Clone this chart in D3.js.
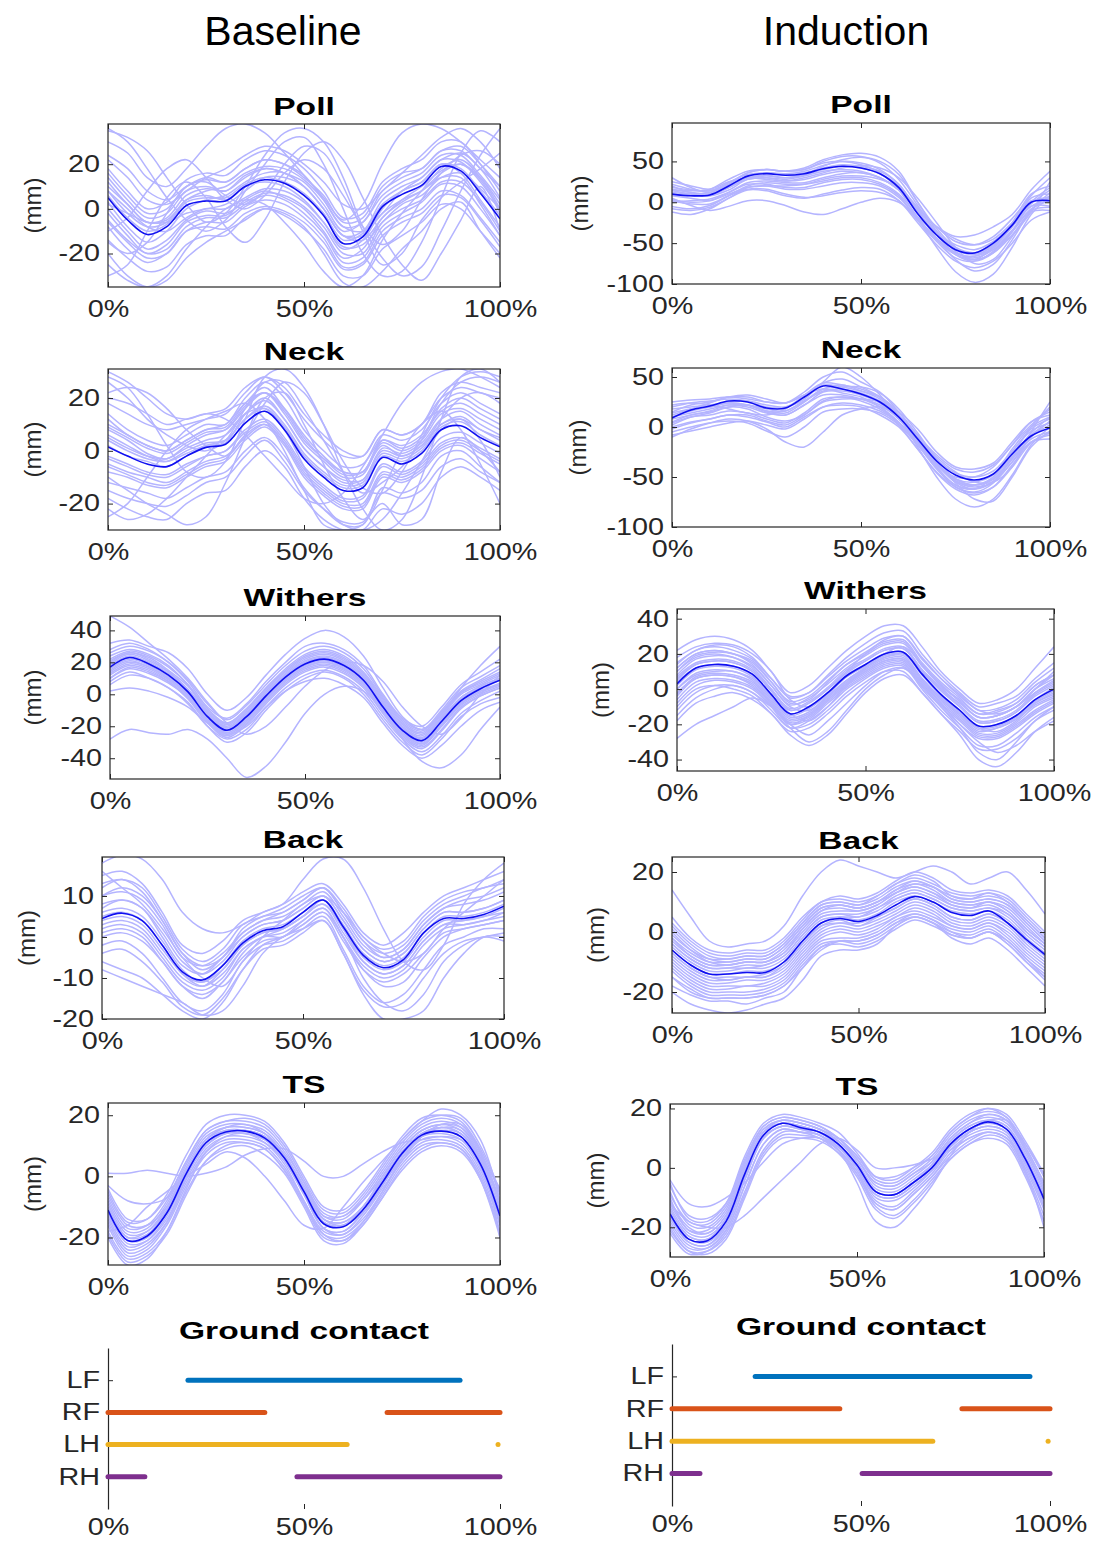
<!DOCTYPE html>
<html>
<head>
<meta charset="utf-8">
<script src="https://cdn.jsdelivr.net/npm/d3@7"></script>
<style>
  body { margin: 0; background: #fff; }
  svg text { font-family: "Liberation Sans", Arial, sans-serif; }
</style>
</head>
<body>
<svg id="fig" width="1094" height="1542"></svg>
<script>
// stride position, % of the stride (every 5%)
var pct = d3.range(0, 101, 5);
var xTicks = [0, 50, 100];

// ---- Poll ----
var pollBaseMean = [5,-5,-11.5,-8,1.5,3.5,3.5,10,13,11.5,6,-3,-15.5,-12.5,1,6.5,10.5,19,17,7,-4.5];
var pollBaseTraces = [
  [18,8,0,3,13,16,15,22,26,24,18,8,-4,-2,12,18,22,30,30,20,8],
  [-8,-18,-24,-20,-10,-8,-9,-2,1,-1,-6,-15,-27,-25,-12,-6,-2,6,5,-5,-17],
  [10,2,-6,-5,4,8,10,16,19,18,13,4,-8,-10,-2,8,14,22,25,18,5],
  [0,-10,-18,-14,-5,-1,-2,3,7,6,1,-8,-20,-20,-6,0,4,12,12,3,-10],
  [30,25,14,10,18,28,36,38,34,25,15,5,-5,2,20,34,38,36,30,22,14],
  [-20,-30,-35,-32,-22,-15,-10,-5,0,-2,-8,-20,-33,-35,-28,-18,-10,0,3,-10,-22],
  [-15,-20,-15,-2,10,12,6,2,8,20,28,25,10,-10,-25,-20,-5,5,12,18,25],
  [36,30,18,5,-5,-10,-5,8,20,30,32,20,0,-20,-30,-28,-15,5,25,35,30],
  [8,0,-8,-10,-4,0,0,5,9,8,3,-6,-17,-16,-6,2,6,14,16,9,0],
  [-2,-12,-20,-16,-6,-3,-3,4,8,5,0,-10,-22,-18,-4,3,8,14,14,2,-12],
  [14,4,-4,-2,8,10,8,14,18,16,12,2,-10,-6,6,12,16,24,24,15,4],
  [2,-2,-6,-6,-2,0,2,8,14,14,10,0,-12,-12,-2,4,8,16,20,14,2],
  [-30,-25,-10,5,12,5,-8,-15,-5,12,25,30,22,5,-12,-25,-32,-20,-5,10,-10],
  [22,14,4,2,8,14,18,24,28,26,20,12,2,0,8,16,24,32,36,30,18],
  [12,2,-6,-4,6,9,8,15,18,16,10,0,-12,-10,4,10,14,22,21,12,0],
  [-5,-14,-20,-18,-8,-4,-4,2,6,4,-2,-11,-24,-22,-8,-2,3,11,10,0,-12],
  [24,18,8,4,10,14,12,18,22,20,14,6,-6,-4,10,16,18,26,26,18,10],
  [-14,-22,-28,-26,-16,-12,-12,-4,0,-3,-9,-18,-30,-30,-18,-12,-6,2,0,-10,-20],
  [3,-8,-15,-10,0,4,6,12,16,16,10,0,-12,-14,-4,4,10,17,20,13,-2],
  [8,-2,-8,-6,4,6,4,10,12,10,4,-6,-18,-14,0,8,12,20,16,4,-8],
  [-10,-4,8,18,22,14,4,0,6,16,22,18,6,-8,-16,-10,4,16,24,26,20],
  [35,32,26,14,2,-6,-2,10,24,34,36,30,14,-8,-22,-30,-26,-10,8,24,36],
  [16,6,-2,0,10,13,12,18,22,20,15,4,-8,-6,8,14,18,26,28,20,10],
  [-6,-15,-22,-20,-10,-6,-6,1,4,2,-4,-13,-26,-24,-10,-4,0,8,6,-4,-15],
  [-25,-32,-35,-30,-18,-8,0,4,2,-6,-16,-28,-35,-30,-14,-2,8,18,22,14,0],
  [6,-4,-10,-7,3,5,5,11,14,12,7,-2,-14,-11,2,8,12,20,18,8,-3]
];
var pollIndMean = [10,8,9,20,32,35,33,35,41,44,42,35,18,-14,-40,-58,-62,-50,-28,0,2];
var pollIndTraces = [
  [30,18,12,22,36,40,38,42,52,58,60,55,38,0,-35,-60,-70,-55,-25,10,20],
  [-12,-15,-8,5,15,14,8,5,10,15,18,16,2,-25,-52,-72,-80,-72,-50,-22,-12],
  [20,12,12,24,34,36,35,38,45,50,48,40,22,-10,-40,-62,-66,-52,-28,5,10],
  [0,2,4,12,22,22,18,18,24,28,28,22,8,-22,-48,-68,-72,-60,-35,-5,-5],
  [5,-4,-10,-5,2,2,-4,-12,-15,-8,0,5,0,-18,-38,-52,-58,-48,-28,-5,5],
  [15,14,16,28,38,40,38,40,48,50,46,36,15,-20,-55,-85,-98,-88,-55,-15,8],
  [12,10,8,15,28,30,28,32,38,40,38,30,15,-10,-30,-42,-40,-30,-15,15,38],
  [8,5,2,10,18,20,20,22,28,32,32,28,18,-6,-30,-45,-52,-45,-25,2,0],
  [25,20,16,25,30,28,26,30,36,42,45,42,30,5,-25,-55,-75,-70,-42,-10,12],
  [-5,-8,-4,8,20,24,22,22,26,30,30,24,10,-18,-46,-64,-70,-62,-40,-12,-10],
  [18,15,14,22,30,32,30,34,44,52,55,50,34,0,-32,-55,-62,-58,-40,-12,25],
  [3,0,2,12,24,26,24,24,30,35,36,30,15,-12,-38,-58,-64,-54,-30,-2,15],
  [14,10,8,18,30,33,30,33,40,44,42,35,20,-8,-36,-56,-62,-52,-30,0,6],
  [-8,-10,-6,5,18,20,16,16,20,24,24,20,6,-20,-44,-62,-68,-58,-36,-10,-6],
  [22,16,14,24,36,40,38,40,50,56,56,48,28,-4,-38,-64,-72,-62,-36,0,18],
  [2,-2,-2,8,16,16,10,6,8,12,14,12,2,-22,-46,-62,-66,-56,-34,-8,2],
  [10,8,10,20,32,36,34,36,42,46,44,38,22,-12,-44,-70,-84,-76,-46,-10,8],
  [16,12,10,18,28,30,26,28,34,38,36,30,15,-8,-30,-48,-52,-42,-20,8,30]
];

// ---- Neck ----
var neckBaseMean = [1.5,-2,-5,-6,-2,1.3,2.5,10.5,15,8,-3,-10,-15,-14,-2.5,-5,-1,8,9.5,5,1.5];
var neckBaseTraces = [
  [14,8,4,2,6,10,10,20,26,20,8,0,-6,-5,6,4,8,18,22,18,14],
  [-12,-14,-16,-18,-14,-10,-8,0,5,-2,-14,-22,-28,-28,-14,-16,-12,-2,0,-6,-12],
  [8,4,-1,-3,2,6,8,16,22,14,3,-4,-10,-9,3,0,4,14,16,12,8],
  [-5,-8,-10,-12,-8,-4,-2,5,10,3,-8,-15,-20,-20,-8,-10,-6,2,4,0,-4],
  [28,24,14,2,-8,-10,-4,12,28,31,24,10,-8,-22,-30,-26,-10,12,28,31,26],
  [-25,-20,-10,0,8,12,15,18,12,0,-15,-28,-30,-28,-15,0,10,15,8,-5,-20],
  [20,18,14,10,12,14,16,24,28,24,14,6,0,-2,8,6,10,22,26,24,22],
  [-18,-22,-25,-26,-20,-16,-15,-6,0,-6,-18,-26,-30,-30,-22,-24,-20,-10,-6,-10,-15],
  [4,0,-3,-4,0,3,4,12,17,10,-1,-8,-13,-12,-1,-3,1,10,12,8,4],
  [-2,-5,-8,-9,-5,-2,0,8,12,5,-6,-13,-18,-17,-5,-8,-4,5,7,3,-1],
  [30,26,20,14,12,14,12,6,-2,-10,-18,-20,-16,-6,6,18,26,30,31,28,24],
  [10,6,2,0,4,8,10,18,22,16,6,-2,-8,-8,2,-2,2,12,20,22,18],
  [-10,-15,-20,-24,-28,-25,-12,5,20,22,10,-5,-18,-26,-20,-28,-26,-8,5,0,-8],
  [6,2,-2,-4,-1,2,3,14,20,12,1,-6,-12,-11,0,-2,2,10,13,8,5],
  [12,6,2,0,4,8,9,18,24,16,5,-3,-8,-8,4,1,5,16,20,16,12],
  [-8,-10,-13,-14,-10,-6,-4,4,9,2,-10,-17,-22,-22,-10,-12,-8,0,2,-3,-8],
  [18,14,10,8,10,12,14,22,28,22,12,4,-2,-2,8,6,10,20,24,22,20],
  [-15,-18,-20,-21,-17,-12,-10,-2,4,-4,-15,-22,-27,-27,-16,-18,-15,-6,-3,-8,-12],
  [5,1,-2,-3,1,4,6,14,19,12,1,-6,-11,-11,1,-1,3,12,15,10,6],
  [-3,-6,-9,-10,-6,-2,0,7,11,4,-7,-14,-19,-18,-6,-9,-5,3,5,1,-3],
  [22,24,22,16,8,2,-2,6,18,26,22,10,-4,-14,-16,-8,6,20,28,30,28],
  [-22,-26,-24,-18,-10,-2,6,14,16,8,-6,-20,-28,-30,-26,-16,-4,8,12,4,-10],
  [2,-2,-4,-6,-2,2,4,12,16,9,-2,-9,-14,-13,-2,-4,0,9,11,6,2],
  [9,5,1,-1,3,7,8,17,22,15,4,-3,-9,-8,4,2,6,15,18,14,10],
  [-6,-9,-12,-13,-9,-5,-3,6,10,3,-9,-16,-21,-21,-9,-11,-7,1,3,-1,-5],
  [26,20,12,6,2,0,4,16,26,26,16,4,-8,-16,-12,-6,4,18,26,28,26]
];
var neckIndMean = [9,17,21,26,25,19,19,30,41,38,33,25,10,-12,-34,-48,-53,-47,-27,-9,-1];
var neckIndTraces = [
  [25,27,28,30,28,25,24,35,50,55,45,35,15,-10,-30,-45,-55,-55,-40,-5,25],
  [-10,-2,4,8,6,-2,-15,-20,-5,12,18,20,10,-10,-35,-55,-62,-50,-25,-2,8],
  [15,22,25,30,30,25,24,32,42,40,36,30,15,-8,-28,-42,-45,-38,-18,5,15],
  [0,5,8,12,10,5,0,10,20,22,20,12,0,-22,-46,-62,-68,-60,-38,-15,-8],
  [18,20,22,25,26,22,20,28,45,60,50,32,10,-20,-50,-72,-80,-72,-48,-18,0],
  [5,12,15,20,18,10,6,12,25,28,28,25,15,-2,-25,-40,-42,-36,-15,5,12],
  [12,18,24,30,32,28,24,32,38,34,30,20,2,-22,-45,-60,-65,-56,-30,-8,5],
  [-5,0,4,6,4,-4,-10,0,15,18,18,14,2,-18,-40,-58,-62,-55,-35,-15,-12],
  [22,24,22,18,14,12,18,32,44,42,38,30,12,-12,-36,-52,-55,-48,-22,0,10],
  [8,12,16,22,20,14,12,22,32,32,28,20,5,-16,-38,-50,-50,-40,-18,2,18],
  [2,10,14,20,22,18,16,26,38,40,40,34,18,-6,-32,-52,-58,-52,-32,-12,-5],
  [10,16,20,24,22,15,12,22,35,36,32,24,8,-14,-36,-54,-60,-55,-35,-10,2],
  [14,18,20,24,22,16,14,25,38,42,36,28,12,-10,-32,-46,-50,-44,-24,-4,4],
  [-2,4,8,12,12,6,2,12,26,30,26,18,4,-18,-42,-60,-66,-60,-40,-16,-6],
  [20,24,26,28,26,20,20,30,44,48,40,30,12,-12,-36,-54,-58,-50,-28,0,20],
  [4,10,12,16,14,8,4,14,28,30,28,22,8,-14,-40,-58,-62,-54,-32,-10,6],
  [10,14,18,22,22,16,16,26,36,38,34,26,10,-12,-36,-52,-58,-52,-30,-6,10],
  [-8,-4,0,4,6,2,-2,8,20,24,22,16,4,-16,-38,-56,-72,-74,-50,-20,-4]
];

// ---- Withers ----
var withersBaseMean = [17,23,19,12,1.5,-14,-22.5,-14,-1,10.8,19,22,18,8.8,-8,-22.5,-29,-17,-4,3.5,8.8];
var withersBaseTraces = [
  [28,32,28,20,8,-8,-15,-6,8,20,30,32,28,18,0,-15,-20,-8,6,14,22],
  [8,14,10,4,-5,-20,-30,-24,-10,2,10,14,10,0,-16,-30,-38,-28,-14,-6,-2],
  [22,27,24,17,6,-10,-18,-9,4,15,24,27,23,13,-3,-18,-24,-12,1,8,14],
  [12,18,15,8,-3,-18,-27,-19,-6,6,14,17,13,4,-12,-27,-34,-23,-9,-1,4],
  [49,42,32,22,10,-5,-18,-25,-20,-8,5,15,20,18,8,-8,-20,-25,-15,0,12],
  [-28,-22,-24,-25,-22,-28,-40,-52,-45,-30,-12,0,5,2,-10,-28,-42,-46,-38,-22,-8],
  [2,4,2,-2,-8,-18,-25,-20,-8,2,8,10,6,-2,-18,-32,-40,-32,-20,-10,-5],
  [32,34,30,26,16,0,-10,-2,12,25,35,40,36,24,4,-14,-22,-12,4,18,30],
  [18,24,20,13,3,-12,-21,-12,1,12,20,23,19,10,-6,-21,-28,-15,-2,5,10],
  [14,20,17,10,0,-16,-24,-16,-3,9,17,20,16,7,-10,-24,-31,-20,-6,2,6],
  [20,26,22,14,3,-12,-20,-11,2,13,22,25,21,11,-5,-20,-26,-14,0,6,12],
  [10,16,13,7,-2,-16,-25,-17,-4,8,16,19,15,6,-10,-25,-32,-20,-7,0,5],
  [15,21,17,10,0,-15,-23,-15,-2,10,18,21,17,8,-9,-23,-30,-18,-5,2,7],
  [19,25,21,14,3,-12,-21,-13,0,12,21,24,20,10,-6,-21,-27,-15,-2,5,10],
  [24,28,25,18,6,-9,-18,-9,4,16,25,28,24,14,-2,-17,-23,-11,2,9,16],
  [10,17,14,8,-2,-17,-26,-18,-5,7,15,18,14,5,-11,-26,-33,-22,-8,-1,4],
  [16,22,18,11,1,-14,-22,-14,-1,11,19,22,18,9,-7,-22,-29,-17,-4,3,9],
  [21,26,23,15,5,-11,-19,-10,3,14,23,26,22,12,-4,-19,-25,-13,1,7,13],
  [6,12,10,4,-6,-20,-28,-22,-8,4,12,15,11,2,-14,-28,-36,-26,-12,-4,2],
  [26,30,27,20,9,-6,-16,-7,6,18,27,30,26,16,-1,-16,-22,-10,4,11,18],
  [13,19,16,9,-1,-16,-24,-16,-3,9,17,20,16,7,-9,-24,-31,-19,-6,1,6],
  [18,23,19,12,2,-13,-21,-12,0,11,20,23,19,10,-7,-21,-28,-16,-3,4,9]
];
var withersIndMean = [3,12,14,13,8.5,-3,-14,-10,-2,7.6,14,20,21,8.5,-3,-12,-21,-20,-15,-6,0];
var withersIndTraces = [
  [15,22,25,24,18,6,-5,-2,8,18,26,32,33,20,8,-2,-10,-8,-4,6,15],
  [-10,0,2,0,-4,-14,-24,-22,-14,-4,4,10,10,-2,-14,-24,-34,-34,-28,-18,-12],
  [8,17,19,18,13,2,-9,-5,3,12,19,25,26,13,2,-7,-16,-15,-10,0,6],
  [-4,6,8,7,2,-8,-19,-16,-7,2,9,15,16,3,-8,-17,-26,-26,-20,-12,-6],
  [22,28,30,28,22,10,-2,2,12,22,30,36,36,24,10,0,-8,-6,0,12,24],
  [-28,-20,-15,-10,-5,-10,-22,-30,-24,-12,0,8,12,4,-8,-20,-30,-36,-32,-24,-18],
  [12,20,22,20,14,2,-10,-12,-4,5,12,18,20,10,0,-8,-16,-15,-10,-2,4],
  [0,8,10,10,5,-6,-17,-14,-5,4,11,17,18,5,-6,-15,-24,-22,-17,-9,-4],
  [18,24,26,25,20,10,-6,-10,-2,10,20,28,30,18,6,-4,-12,-14,-10,0,10],
  [-15,-5,0,2,-2,-10,-20,-26,-18,-8,2,10,12,2,-10,-22,-36,-40,-30,-18,-10],
  [6,14,16,15,10,-1,-12,-8,0,10,16,22,23,11,0,-10,-19,-18,-13,-3,3],
  [-8,2,5,4,0,-10,-22,-18,-10,0,7,13,14,1,-10,-20,-28,-28,-22,-14,-8],
  [10,18,20,18,12,0,-14,-18,-10,2,12,20,24,14,2,-6,-14,-12,-8,2,8],
  [-2,6,8,7,3,-8,-20,-15,-6,3,10,16,17,6,-6,-14,-22,-24,-18,-8,-2],
  [2,11,13,12,7,-4,-15,-11,-3,7,13,19,20,8,-4,-13,-22,-21,-16,-7,-1],
  [5,14,16,15,10,-1,-12,-8,0,9,16,22,23,10,-1,-10,-19,-18,-13,-4,2],
  [-6,4,6,5,1,-9,-20,-17,-8,1,8,14,15,2,-9,-18,-27,-27,-21,-13,-7],
  [10,19,21,20,15,4,-7,-4,5,14,21,27,28,15,4,-5,-14,-13,-8,2,8],
  [-12,-2,2,2,-2,-12,-22,-20,-12,-2,6,12,13,0,-12,-22,-32,-32,-25,-16,-10],
  [14,22,24,22,17,6,-4,-2,7,16,23,29,30,17,6,-3,-12,-11,-6,4,12],
  [0,9,11,10,6,-5,-16,-13,-4,5,12,18,19,6,-5,-14,-23,-22,-17,-8,-3],
  [7,15,17,16,11,0,-11,-7,1,11,17,23,24,11,1,-9,-18,-17,-12,-2,5],
  [-3,7,9,8,4,-7,-18,-15,-6,3,10,16,17,4,-7,-16,-25,-25,-19,-10,-5],
  [4,12,14,13,8,-3,-14,-10,-2,8,14,20,21,9,-3,-12,-21,-20,-15,-6,1],
  [-18,-8,-4,-2,-6,-14,-26,-32,-26,-14,-2,6,8,-2,-14,-26,-40,-44,-36,-24,-16],
  [12,20,22,20,16,4,-8,-6,4,14,20,26,27,14,3,-7,-16,-15,-10,0,8]
];

// ---- Back ----
var backBaseMean = [4.5,5.8,4,-2,-8.5,-10.5,-7,-1.5,1.5,2.5,6,9,2.5,-4.5,-7.5,-5.5,1,4.5,4.5,5.5,7.5];
var backBaseTraces = [
  [15,16,13,6,-2,-4,-1,4,6,8,11,13,8,1,-2,1,6,10,12,14,16],
  [-2,-1,-4,-10,-16,-18,-14,-6,-2,-1,2,5,-3,-12,-16,-14,-8,-2,0,2,2],
  [10,11,9,3,-5,-7,-4,1,4,5,8,11,5,-2,-5,-3,3,7,8,9,11],
  [1,2,0,-6,-12,-14,-11,-4,0,0,3,6,-1,-8,-11,-9,-4,1,2,3,4],
  [18,20,19,14,6,2,1,3,6,8,14,19,19,12,2,-6,-8,-2,8,14,18],
  [-8,-10,-12,-14,-16,-19,-18,-12,-4,0,2,4,-4,-14,-20,-20,-18,-10,-4,0,0],
  [7,9,7,0,-7,-9,-5,0,3,4,7,10,4,-3,-6,-4,2,6,6,7,9],
  [12,14,11,4,-4,-7,-5,2,5,6,9,12,6,-1,-4,-2,4,8,10,12,13],
  [3,4,2,-4,-10,-12,-8,-2,1,2,5,8,1,-6,-9,-7,-1,3,3,4,6],
  [16,12,8,2,-5,-10,-12,-6,0,4,8,10,6,0,-4,-6,-4,2,6,10,14],
  [6,7,5,-1,-8,-11,-7,-1,2,3,6,9,3,-4,-7,-5,1,5,5,6,8],
  [0,1,-1,-6,-12,-15,-11,-5,-1,0,4,7,0,-8,-12,-11,-5,0,2,3,4],
  [8,9,7,1,-6,-9,-6,0,3,4,7,10,4,-3,-6,-4,2,6,6,7,9],
  [5,6,4,-2,-9,-11,-8,-2,1,2,5,9,2,-5,-8,-6,0,4,4,5,7],
  [13,14,12,5,-3,-6,-3,3,5,7,10,12,7,0,-3,-1,5,9,11,12,14],
  [-4,-3,-6,-11,-17,-19,-15,-8,-3,-2,1,4,-4,-13,-17,-16,-10,-4,-1,0,1],
  [2,3,1,-5,-11,-13,-10,-3,0,1,4,7,0,-7,-10,-8,-2,2,3,4,5],
  [10,12,10,4,-4,-8,-5,1,4,6,9,12,6,-1,-5,-3,3,7,9,10,12],
  [-6,-8,-10,-14,-18,-20,-16,-8,-2,0,3,6,0,-10,-16,-18,-14,-6,-2,0,-1],
  [4,5,3,-3,-9,-12,-9,-3,0,2,5,8,2,-6,-9,-7,-1,3,4,5,6]
];
var backIndMean = [-6,-11,-14,-14,-13.5,-13.5,-10,-3,3,4.5,3.5,5.5,9,11.8,10,6.5,5.5,7,3,-2.5,-7.5];
var backIndTraces = [
  [5,-2,-6,-7,-6,-6,-2,5,10,12,11,13,17,20,18,14,13,14,12,6,0],
  [-15,-20,-22,-22,-22,-21,-18,-12,-5,-4,-5,-3,1,4,2,-1,-2,0,-4,-10,-15],
  [-2,-7,-10,-10,-9,-9,-5,2,8,9,8,10,14,16,15,11,10,11,9,3,-3],
  [-10,-15,-18,-18,-18,-17,-14,-7,-1,1,0,2,5,8,6,2,1,3,0,-6,-11],
  [14,5,-3,-5,-4,-3,2,12,20,24,22,20,18,20,22,20,16,18,20,14,6],
  [-20,-24,-26,-27,-26,-24,-22,-16,-8,-6,-6,-4,2,5,3,-2,-4,-2,-6,-12,-18],
  [-4,-9,-12,-12,-11,-11,-8,-1,5,6,6,8,12,14,12,9,8,9,6,0,-5],
  [-8,-13,-16,-16,-15,-15,-12,-5,1,3,2,4,7,10,8,4,3,5,2,-4,-9],
  [2,-4,-8,-9,-8,-8,-4,3,9,10,9,12,16,19,17,12,11,13,10,4,-2],
  [-12,-17,-20,-20,-20,-19,-16,-9,-3,-2,-2,0,4,6,4,1,0,2,-2,-8,-13],
  [-5,-10,-13,-13,-12,-12,-9,-2,4,5,5,7,11,13,11,8,7,8,5,-1,-6],
  [0,-6,-10,-11,-10,-10,-6,1,7,9,8,10,13,16,14,10,9,10,8,2,-4],
  [-7,-12,-15,-15,-15,-14,-11,-4,2,4,2,5,8,11,9,5,4,6,3,-3,-8],
  [-18,-21,-23,-23,-24,-22,-20,-12,-6,-3,-3,-1,3,6,4,0,-2,0,-4,-10,-16],
  [-3,-8,-11,-11,-10,-10,-7,0,6,7,7,9,13,15,13,10,9,10,7,1,-4],
  [-9,-14,-17,-17,-16,-16,-13,-6,0,2,1,3,6,9,7,3,2,4,1,-5,-10],
  [-1,-6,-9,-9,-8,-8,-4,3,9,10,9,11,15,17,15,12,11,12,10,4,-2],
  [-13,-18,-21,-21,-21,-20,-17,-10,-4,-3,-3,-1,3,5,3,0,-1,1,-3,-9,-14],
  [-6,-11,-14,-14,-13,-13,-10,-3,3,5,4,6,10,12,10,7,6,7,4,-2,-7],
  [3,-3,-7,-8,-7,-7,-3,4,10,11,10,12,16,18,16,13,12,13,11,5,-1],
  [-11,-16,-19,-19,-18,-18,-15,-8,-2,0,-1,1,5,7,5,2,1,3,-1,-7,-12],
  [-4,-9,-12,-12,-12,-11,-8,-1,5,6,5,8,11,13,11,8,7,8,6,0,-5],
  [-7,-12,-15,-16,-15,-15,-11,-4,2,3,3,5,8,11,9,5,4,6,3,-3,-8],
  [1,-5,-9,-10,-9,-9,-5,2,8,9,8,10,14,17,15,11,10,11,9,3,-3],
  [-15,-19,-22,-22,-22,-21,-18,-11,-5,-3,-4,-2,2,5,3,-1,-2,0,-3,-9,-15],
  [-2,-8,-11,-11,-10,-10,-7,1,7,8,7,9,13,15,13,9,8,10,7,1,-4]
];

// ---- TS ----
var tsBaseMean = [-11,-21,-19.5,-12,1,11,14.5,14.8,12.5,6,-5,-15.5,-16.5,-11,-2,7.5,13.5,14.8,13,4,-13];
var tsBaseTraces = [
  [-5,-15,-14,-6,7,17,20,20,18,11,0,-10,-11,-5,4,13,19,20,18,9,-6],
  [-18,-27,-25,-18,-5,5,9,10,7,1,-10,-21,-22,-16,-7,2,8,10,8,-1,-19],
  [-8,-18,-17,-9,4,14,17,17,15,8,-2,-13,-14,-8,1,10,16,18,16,7,-10],
  [-14,-24,-22,-15,-2,8,12,12,10,3,-8,-18,-19,-14,-5,5,11,12,10,1,-16],
  [1,1,2,1,0,1,3,7,9,9,5,0,0,4,8,11,12,13,12,6,-4],
  [-18,-16,-10,-5,0,4,8,6,0,-8,-16,-17,-10,-2,5,12,18,22,20,12,-8],
  [-3,-8,-9,-7,2,10,14,14,12,6,-4,-14,-16,-12,-3,7,13,15,14,6,-8],
  [-20,-29,-27,-18,-4,8,13,14,11,4,-8,-19,-21,-15,-5,6,13,16,15,6,-20],
  [-10,-20,-18,-10,3,13,16,16,14,7,-4,-14,-15,-10,0,9,15,17,15,6,-12],
  [-12,-22,-21,-14,-1,9,13,13,11,5,-6,-17,-18,-12,-3,6,12,13,11,2,-14],
  [-15,-25,-23,-15,0,12,16,17,14,7,-5,-17,-19,-13,-4,5,13,17,17,8,-16],
  [-6,-16,-16,-10,2,11,14,15,13,7,-3,-13,-13,-8,0,9,15,17,16,8,-9],
  [-9,-19,-18,-11,2,12,15,15,13,7,-4,-15,-16,-10,-1,8,14,16,14,5,-11],
  [-13,-23,-21,-13,0,10,14,14,12,5,-6,-17,-18,-12,-3,7,13,14,12,3,-15],
  [-7,-17,-16,-8,5,15,18,18,16,9,-2,-12,-13,-7,2,11,17,19,17,8,-8],
  [-16,-26,-24,-16,-3,7,11,11,9,2,-9,-19,-20,-15,-6,4,10,11,9,0,-18],
  [-11,-21,-20,-12,1,11,15,15,13,6,-5,-15,-16,-11,-2,8,14,15,13,4,-13],
  [-4,-14,-14,-7,5,15,18,19,17,10,-1,-11,-12,-6,3,12,18,20,19,10,-5],
  [-19,-28,-26,-19,-6,5,10,11,9,2,-9,-20,-21,-16,-7,3,9,11,9,-1,-20],
  [-10,-20,-19,-11,2,12,16,16,14,7,-4,-14,-15,-10,-1,8,14,16,14,5,-12]
];
var tsIndMean = [-15.5,-24,-24.5,-18,-2,11,15,13.5,12,8,1,-8,-9,-5,0,8,13,15.5,13,3,-10.5];
var tsIndTraces = [
  [-5,-17,-18,-12,4,15,18,17,15,12,5,-3,-4,0,5,13,18,20,17,8,-3],
  [-20,-28,-29,-24,-10,4,10,10,9,5,-3,-14,-17,-12,-5,3,8,10,8,-3,-18],
  [-10,-21,-21,-15,1,13,16,15,13,10,3,-5,-6,-2,2,10,15,17,15,6,-7],
  [-18,-26,-27,-21,-6,8,13,12,11,6,-1,-11,-13,-8,-2,6,11,13,11,0,-14],
  [-12,-18,-20,-20,-16,-10,-4,2,8,10,6,0,0,1,3,6,10,12,10,2,-10],
  [-4,-12,-13,-10,-5,2,8,10,10,6,-5,-18,-20,-14,-6,4,12,16,16,8,-2],
  [-13,-22,-23,-17,-1,12,15,14,12,9,2,-7,-8,-4,1,9,14,16,14,4,-9],
  [-16,-25,-26,-20,-4,10,14,13,12,7,0,-9,-10,-6,-1,7,12,14,12,2,-12],
  [-8,-19,-20,-14,2,14,17,16,14,10,4,-4,-5,-1,4,12,17,19,17,7,-5],
  [-22,-29,-28,-22,-8,6,12,12,10,6,-2,-12,-14,-9,-3,4,9,12,10,-1,-20],
  [-14,-23,-24,-17,-2,11,15,14,12,8,1,-8,-9,-5,0,8,13,15,13,3,-11],
  [-11,-20,-22,-16,0,12,16,15,13,9,3,-6,-7,-3,2,10,15,18,16,6,-6],
  [-12,-21,-22,-16,0,12,15,14,12,8,1,-8,-9,-5,1,9,14,16,14,5,-8],
  [-17,-25,-26,-19,-3,10,14,13,11,7,0,-10,-11,-7,-1,7,12,14,12,1,-13],
  [-9,-18,-19,-13,2,13,16,15,13,9,3,-5,-6,-2,3,11,16,18,16,7,-5],
  [-19,-27,-27,-21,-6,8,13,12,11,6,-1,-12,-14,-9,-3,5,10,12,10,-1,-16],
  [-14,-23,-24,-18,-3,11,15,14,12,8,1,-8,-9,-5,0,8,13,15,13,3,-10],
  [-6,-16,-17,-12,3,14,17,16,14,10,4,-3,-3,0,4,12,17,20,18,9,-2],
  [-21,-28,-28,-23,-9,5,11,11,10,5,-2,-13,-16,-11,-4,3,8,11,9,-2,-18],
  [-15,-24,-25,-19,-4,10,14,13,11,7,0,-9,-10,-6,-1,7,12,14,12,2,-12]
];

// ---- Ground contact (start %, end %) per limb ----
var limbs = ["LF", "RF", "LH", "RH"];
var limbColors = ["#0072bd", "#d95319", "#edb120", "#7e2f8e"];
var contactBase = [
  [[20.4, 89.8]],
  [[0, 40], [71.2, 100]],
  [[0, 61], [99.5, 99.5]],
  [[0, 9.4], [48.2, 100]]
];
var contactInd = [
  [[22, 94.7]],
  [[0, 44.4], [76.7, 100]],
  [[0, 69], [99.5, 99.5]],
  [[0, 7.4], [50.3, 100]]
];

var svg = d3.select("#fig");
var INK = "#262626";
var TICKSX = 1.25;   // the original figure is stretched sideways
var TITLESX = 1.4;

svg.append("text").attr("x", 283).attr("y", 45).attr("text-anchor", "middle")
  .style("font-size", "41px").attr("fill", "#000").text("Baseline");
svg.append("text").attr("x", 846).attr("y", 45).attr("text-anchor", "middle")
  .style("font-size", "41px").attr("fill", "#000").text("Induction");

var panels = [
  {id: "pb", title: "Poll", mean: pollBaseMean, traces: pollBaseTraces, dom: [-35, 38], ticks: [-20, 0, 20], x0: 108, x1: 500, y0: 124, y1: 287, ty: 115, lx: 33},
  {id: "pi", title: "Poll", mean: pollIndMean, traces: pollIndTraces, dom: [-100, 97], ticks: [-100, -50, 0, 50], x0: 672, x1: 1050, y0: 123, y1: 284, ty: 113, lx: 580},
  {id: "nb", title: "Neck", mean: neckBaseMean, traces: neckBaseTraces, dom: [-30, 31], ticks: [-20, 0, 20], x0: 108, x1: 500, y0: 369, y1: 530, ty: 360, lx: 33},
  {id: "ni", title: "Neck", mean: neckIndMean, traces: neckIndTraces, dom: [-100, 59], ticks: [-100, -50, 0, 50], x0: 672, x1: 1050, y0: 368, y1: 527, ty: 358, lx: 578},
  {id: "wb", title: "Withers", mean: withersBaseMean, traces: withersBaseTraces, dom: [-53, 49], ticks: [-40, -20, 0, 20, 40], x0: 110, x1: 500, y0: 616, y1: 779, ty: 606, lx: 33},
  {id: "wi", title: "Withers", mean: withersIndMean, traces: withersIndTraces, dom: [-46.5, 45.5], ticks: [-40, -20, 0, 20, 40], x0: 677, x1: 1054, y0: 609, y1: 771, ty: 599, lx: 601},
  {id: "bb", title: "Back", mean: backBaseMean, traces: backBaseTraces, dom: [-20, 19.5], ticks: [-20, -10, 0, 10], x0: 102, x1: 504, y0: 857, y1: 1019, ty: 848, lx: 27},
  {id: "bi", title: "Back", mean: backIndMean, traces: backIndTraces, dom: [-27, 25], ticks: [-20, 0, 20], x0: 672, x1: 1045, y0: 857, y1: 1013, ty: 849, lx: 596},
  {id: "tb", title: "TS", mean: tsBaseMean, traces: tsBaseTraces, dom: [-29, 24], ticks: [-20, 0, 20], x0: 108, x1: 500, y0: 1103, y1: 1265, ty: 1093, lx: 33},
  {id: "ti", title: "TS", mean: tsIndMean, traces: tsIndTraces, dom: [-30, 21.5], ticks: [-20, 0, 20], x0: 670, x1: 1044, y0: 1104, y1: 1257, ty: 1095, lx: 596}
];

var contactPanels = [
  {id: "gb", data: contactBase, x0: 108, x1: 500, y0: 1348, y1: 1509, ty: 1339},
  {id: "gi", data: contactInd, x0: 672, x1: 1050, y0: 1344, y1: 1506, ty: 1335}
];

// plain hyphen minus, like the original
var numFmt = function (d) { return String(d); };

function stretchTicks(g) {
  g.selectAll(".tick line").attr("stroke", INK);
  g.selectAll(".tick text").attr("fill", INK).style("font-size", "23px").each(function () {
    var t = d3.select(this);
    var xv = +t.attr("x") || 0;
    t.attr("x", xv / TICKSX).attr("transform", "scale(" + TICKSX + ",1)");
  });
}

function styleAxis(g) {
  g.select(".domain").remove();
  stretchTicks(g);
}

function addTitle(cx, ty, label) {
  svg.append("text")
    .attr("transform", "translate(" + cx + "," + ty + ") scale(" + TITLESX + ",1)")
    .attr("text-anchor", "middle")
    .style("font-size", "24px").style("font-weight", "bold")
    .attr("fill", "#000").text(label);
}

panels.forEach(function (p) {
  var x = d3.scaleLinear().domain([0, 100]).range([p.x0, p.x1]);
  var y = d3.scaleLinear().domain(p.dom).range([p.y1, p.y0]);

  svg.append("clipPath").attr("id", "clip-" + p.id)
    .append("rect").attr("x", p.x0).attr("y", p.y0)
    .attr("width", p.x1 - p.x0).attr("height", p.y1 - p.y0);

  var line = d3.line()
    .x(function (d, i) { return x(pct[i]); })
    .y(function (d) { return y(d); })
    .curve(d3.curveCatmullRom.alpha(0.5));

  var plot = svg.append("g").attr("clip-path", "url(#clip-" + p.id + ")");
  plot.selectAll("path.trace")
    .data(p.traces)
    .enter()
    .append("path")
      .attr("class", "trace")
      .attr("d", line)
      .attr("fill", "none")
      .attr("stroke", "#b4b4ff")
      .attr("stroke-width", 1.5);
  plot.append("path")
    .datum(p.mean)
    .attr("d", line)
    .attr("fill", "none")
    .attr("stroke", "#1010f0")
    .attr("stroke-width", 1.6);

  svg.append("g").attr("transform", "translate(0," + p.y1 + ")")
    .call(d3.axisBottom(x).tickValues(xTicks).tickFormat(function (d) { return d + "%"; }).tickSize(-5).tickPadding(14))
    .call(styleAxis);
  svg.append("g").attr("transform", "translate(0," + p.y0 + ")")
    .call(d3.axisTop(x).tickValues(xTicks).tickFormat("").tickSize(-5))
    .call(styleAxis);
  svg.append("g").attr("transform", "translate(" + p.x0 + ",0)")
    .call(d3.axisLeft(y).tickValues(p.ticks).tickFormat(numFmt).tickSize(-5).tickPadding(8))
    .call(styleAxis);
  svg.append("g").attr("transform", "translate(" + p.x1 + ",0)")
    .call(d3.axisRight(y).tickValues(p.ticks).tickFormat("").tickSize(-5))
    .call(styleAxis);

  svg.append("rect")
    .attr("x", p.x0).attr("y", p.y0)
    .attr("width", p.x1 - p.x0).attr("height", p.y1 - p.y0)
    .attr("fill", "none").attr("stroke", INK).attr("stroke-width", 1.2);

  addTitle((p.x0 + p.x1) / 2, p.ty, p.title);

  svg.append("text")
    .attr("transform", "translate(" + p.lx + "," + (p.y0 + p.y1) / 2 + ") rotate(-90)")
    .attr("text-anchor", "middle").attr("dy", "0.35em")
    .style("font-size", "24px").attr("fill", INK).text("(mm)");
});

contactPanels.forEach(function (p) {
  var x = d3.scaleLinear().domain([0, 100]).range([p.x0, p.x1]);
  var y = d3.scalePoint().domain(limbs.slice().reverse()).range([p.y1, p.y0]).padding(1);

  // slightly tighter padding so the labels stay inside the page
  svg.append("g").attr("transform", "translate(0," + p.y1 + ")")
    .call(d3.axisBottom(x).tickValues(xTicks).tickFormat(function (d) { return d + "%"; }).tickSize(-5).tickPadding(10))
    .call(styleAxis);

  var ya = svg.append("g").attr("transform", "translate(" + p.x0 + ",0)")
    .call(d3.axisLeft(y).tickSize(-5).tickSizeOuter(0).tickPadding(8))
    .call(stretchTicks);
  ya.select(".domain").attr("stroke", INK).attr("stroke-width", 1.2);

  limbs.forEach(function (limb, k) {
    svg.append("g").selectAll("line")
      .data(p.data[k])
      .enter()
      .append("line")
        .attr("x1", function (d) { return x(d[0]); })
        .attr("x2", function (d) { return x(d[1]); })
        .attr("y1", y(limb))
        .attr("y2", y(limb))
        .attr("stroke", limbColors[k])
        .attr("stroke-width", 5)
        .attr("stroke-linecap", "round");
  });

  addTitle((p.x0 + p.x1) / 2, p.ty, "Ground contact");
});
</script>
</body>
</html>
